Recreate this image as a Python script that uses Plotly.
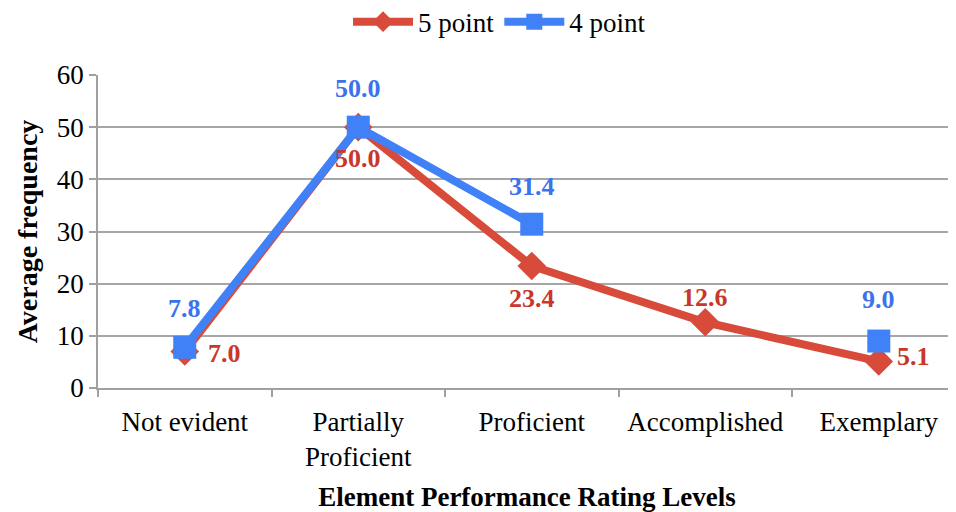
import plotly.graph_objects as go

categories = ["Not evident", "Partially<br>Proficient", "Proficient", "Accomplished", "Exemplary"]
five_point = [7.0, 50.0, 23.4, 12.6, 5.1]
four_point = [7.8, 50.0, 31.4, None, 9.0]

# data-label pixel offsets (x, y) from each point
five_label_shift = [(40, -2), (0, -31), (0, -33), (0, 25), (35, 5)]
four_label_shift = [(0, 39), (0, 39), (0, 38), (0, 0), (0, 42)]

RED = "#d84b3a"
BLUE = "#4081f7"
RED_TXT = "#c9372b"
BLUE_TXT = "#3c72ee"
FONT = "Liberation Serif"

fig = go.Figure()
fig.add_trace(go.Scatter(
    x=categories, y=five_point, name="5 point", mode="lines+markers",
    line=dict(color=RED, width=8),
    marker=dict(symbol="diamond", size=22, color=RED),
    cliponaxis=False,
))
fig.add_trace(go.Scatter(
    x=categories, y=four_point, name="4 point", mode="lines+markers",
    line=dict(color=BLUE, width=8), connectgaps=False,
    marker=dict(symbol="square", size=23, color=BLUE),
    cliponaxis=False,
))

annotations = []
for vals, shifts, col in [(five_point, five_label_shift, RED_TXT), (four_point, four_label_shift, BLUE_TXT)]:
    for cat, v, (dx, dy) in zip(categories, vals, shifts):
        if v is None:
            continue
        annotations.append(dict(
            x=cat, y=v, xref="x", yref="y", text=f"<b>{v:.1f}</b>", showarrow=False,
            xshift=dx, yshift=dy, xanchor="center", yanchor="middle",
            font=dict(family=FONT, size=26, color=col),
        ))

fig.update_layout(
    width=948, height=504,
    margin=dict(l=90, r=0, t=67, b=124, autoexpand=False),
    paper_bgcolor="white", plot_bgcolor="white",
    font=dict(family=FONT, size=27, color="black"),
    annotations=annotations,
    legend=dict(orientation="h", x=0.468, xanchor="center", y=1.169, yanchor="middle",
                font=dict(family=FONT, size=27), itemwidth=60, traceorder="normal"),
    xaxis=dict(
        type="category", range=[-0.5, 4.445],
        showline=True, linecolor="#a0a0a0", linewidth=1.5,
        ticks="outside", tickson="boundaries", ticklen=7, tickcolor="#a0a0a0", tickwidth=1.5,
        ticklabelstandoff=9,
        showgrid=False, tickfont=dict(family=FONT, size=27),
        title=dict(text="<b>Element Performance Rating Levels</b>", font=dict(family=FONT, size=27), standoff=16),
    ),
    yaxis=dict(
        range=[0, 60], dtick=10, tickformat="d",
        showline=True, linecolor="#a0a0a0", linewidth=1.5,
        ticks="outside", ticklen=7, tickcolor="#a0a0a0", tickwidth=1.5,
        showgrid=True, gridcolor="#a6a6a6", gridwidth=1.5, zeroline=False,
        tickfont=dict(family=FONT, size=27),
        title=dict(text="<b>Average frequency</b>", font=dict(family=FONT, size=28), standoff=11),
    ),
)

fig.write_html("out.html")
